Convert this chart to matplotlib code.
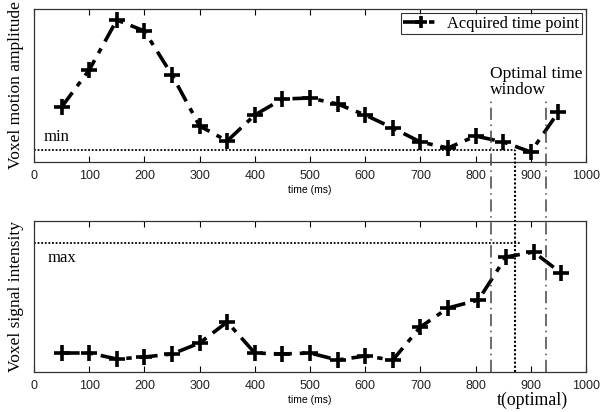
import matplotlib
matplotlib.use("Agg")
import matplotlib.pyplot as plt

# ---- data ----
t_top = [50, 100, 150, 200, 250, 300, 350, 400, 450, 500, 550, 600, 650, 700, 750, 800, 850, 900, 950]
motion = [55, 92, 142, 131, 87, 36, 21, 47, 63, 64, 58, 47, 34, 20, 14, 26, 20, 10, 50]

t_bot = [50, 100, 150, 200, 250, 300, 350, 400, 450, 500, 550, 600, 650, 700, 750, 805, 855, 905, 955]
signal = [19, 19, 13, 15, 18, 29, 50, 19, 18, 19, 12, 16, 12, 45, 64, 72, 115, 120, 99]

min_level = 12
max_level = 129
t_optimal = 871
window = [828, 927]
xticks = [0, 100, 200, 300, 400, 500, 600, 700, 800, 900, 1000]

serif = "Liberation Serif"
sans = "Liberation Sans"

fig = plt.figure(figsize=(6.01, 4.12), dpi=100)
ax1 = fig.add_axes([34/601, 1 - 162/412, 552/601, 153/412])
ax2 = fig.add_axes([34/601, 1 - 372/412, 552/601, 151/412])

line_kw = dict(color="black", linestyle="-.", linewidth=2.6, marker="+",
               markersize=11, markeredgewidth=2.6, dashes=(5, 2.2, 1.5, 2.2))

for ax in (ax1, ax2):
    ax.set_xlim(0, 1000)
    ax.set_xticks(xticks)
    ax.set_yticks([])
    ax.tick_params(axis="x", direction="in", length=4, top=True, bottom=True,
                   labelsize=9, pad=6, width=0.8, labelcolor="#222222")
    for lab in ax.get_xticklabels():
        lab.set_fontfamily(sans)
    for s in ax.spines.values():
        s.set_linewidth(0.9)
        s.set_color("#333333")
    ax.set_xlabel("time (ms)", fontfamily=sans, fontsize=7.5, labelpad=2)

ax1.set_ylim(0, 153)
ax2.set_ylim(0, 151)

ax1.plot(t_top, motion, label="Acquired time point", **line_kw)
ax2.plot(t_bot, signal, **line_kw)

ax1.set_ylabel("Voxel motion amplitude", fontfamily=serif, fontsize=12.5)
ax2.set_ylabel("Voxel signal intensity", fontfamily=serif, fontsize=12.5)
ax1.yaxis.set_label_coords(-0.018, 0.5)
ax2.yaxis.set_label_coords(-0.018, 0.5)

# min / max reference lines
ax1.plot([0, t_optimal], [min_level, min_level], color="black", linestyle=(0, (1, 1)), linewidth=1.3)
ax2.plot([0, 882], [max_level, max_level], color="black", linestyle=(0, (1, 1)), linewidth=1.3)
ax1.text(18, min_level + 5, "min", fontfamily=serif, fontsize=12, va="bottom")
ax2.text(25, 110, "max", fontfamily=serif, fontsize=12, va="baseline")

# vertical lines spanning both panels (drawn in the lower panel, unclipped)
ax2.plot([t_optimal, t_optimal], [0, 222], color="black", linestyle=(0, (1, 1)),
         linewidth=1.5, clip_on=False)
for w in window:
    ax2.plot([w, w], [0, 272], color="#444444", linestyle=(0, (8, 3, 1, 3)),
             linewidth=1.1, clip_on=False)

ax1.text(826, 68, "Optimal time\nwindow", fontfamily=serif, fontsize=12.5,
         va="baseline", ha="left", linespacing=1.0)
fig.text(532/601, 1 - 400/412, "t(optimal)", fontfamily=serif, fontsize=12.8,
         ha="center", va="center")

leg = ax1.legend(loc="upper right", prop={"family": serif, "size": 11.8},
                 frameon=True, fancybox=False, handlelength=2.2,
                 borderpad=0.15, borderaxespad=0.25, handletextpad=0.5,
                 markerscale=0.85)
leg.get_frame().set_edgecolor("black")
leg.get_frame().set_linewidth(0.8)

fig.savefig("out.png", dpi=100)
